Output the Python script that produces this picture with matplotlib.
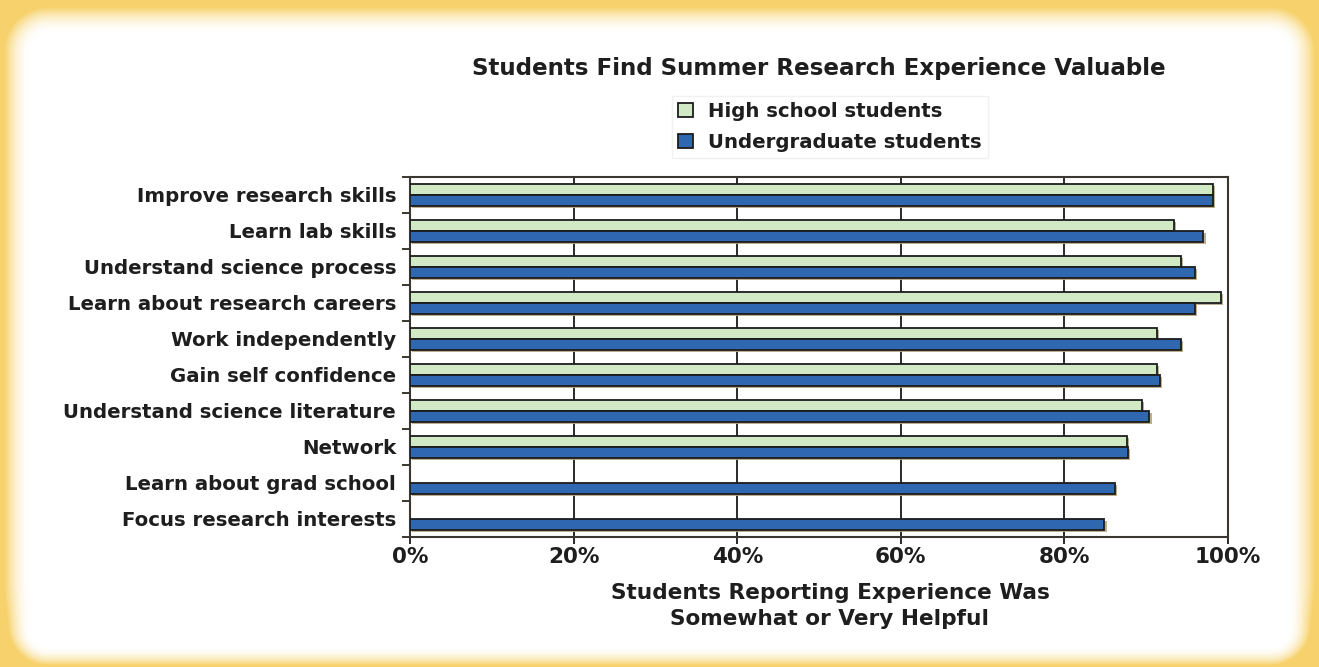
"""Students find summer research experience valuable - horizontal bar chart."""

import matplotlib
matplotlib.use("Agg")  # headless backend
import matplotlib.pyplot as plt
import matplotlib.patheffects as pe
from matplotlib.patches import Patch
import numpy as np

# ---------------------------------------------------------------------------
# Data (percent reporting experience was somewhat or very helpful)
# ---------------------------------------------------------------------------
categories = [
    "Improve research skills",
    "Learn lab skills",
    "Understand science process",
    "Learn about research careers",
    "Work independently",
    "Gain self confidence",
    "Understand science literature",
    "Network",
    "Learn about grad school",
    "Focus research interests",
]
high_school = [98.2, 93.4, 94.3, 99.1, 91.3, 91.3, 89.5, 87.7, np.nan, np.nan]
undergrad = [98.2, 97.0, 96.0, 96.0, 94.3, 91.7, 90.4, 87.8, 86.2, 84.9]
x_ticks = [0, 20, 40, 60, 80, 100]

HS_COLOR = "#d2e9c6"
UG_COLOR = "#2f67b1"
EDGE = "#1c1c1c"
TEXT = "#1e1e1e"
YELLOW = np.array([247, 210, 108]) / 255.0

W, H = 1319, 667
fig = plt.figure(figsize=(W / 100, H / 100), dpi=100)

# yellow glowing frame behind everything (left, top, right, bottom insets)
bg = fig.add_axes((0, 0, 1, 1), zorder=-10)
yy, xx = np.mgrid[0:H, 0:W] + 0.5
il, it, ir, ib, rad = 30, 33, 30, 20, 18
cx = np.clip(xx, il + rad, W - ir - rad)
cy = np.clip(yy, it + rad, H - ib - rad)
dist = np.hypot(xx - cx, yy - cy) - rad
fade = np.interp(yy, [H - 80, H], [26.0, 18.0])
t = np.clip(dist / fade, 0, 1) ** 1.8
img = (1 - t[..., None]) * 1.0 + t[..., None] * YELLOW
bg.imshow(img, extent=(0, W, H, 0), aspect="auto", interpolation="bilinear")
bg.set_axis_off()

ax = fig.add_axes((410 / W, 1 - 537 / H, (1228 - 410) / W, (537 - 177) / H))
ax.set_facecolor("none")

n = len(categories)
y = np.arange(n)
bar_h = 0.3
shadow = [pe.SimplePatchShadow(offset=(1.5, -1.5), shadow_rgbFace="#b5a684", alpha=0.9),
          pe.Normal()]

hs = np.asarray(high_school, dtype=float)
ok = ~np.isnan(hs)
b1 = ax.barh(y[ok] - bar_h / 2, hs[ok], height=bar_h, color=HS_COLOR,
             edgecolor=EDGE, linewidth=1.3, zorder=3)
b2 = ax.barh(y + bar_h / 2, undergrad, height=bar_h, color=UG_COLOR,
             edgecolor=EDGE, linewidth=1.3, zorder=3)
for bars in (b1, b2):
    for p in bars:
        p.set_path_effects(shadow)

ax.set_xlim(0, 100)
ax.set_ylim(n - 0.5, -0.5)
ax.set_xticks(x_ticks)
ax.set_xticklabels([f"{v}%" for v in x_ticks], fontsize=15.5, fontweight="bold",
                   color=TEXT)
ax.set_yticks(y)
ax.set_yticklabels(categories, fontsize=14.2, fontweight="bold", color=TEXT)
ax.set_yticks(np.arange(n + 1) - 0.5, minor=True)
ax.tick_params(axis="y", which="major", length=0, pad=10)
ax.tick_params(axis="y", which="minor", length=6, width=1.4, color="#3a3630")
ax.tick_params(axis="x", length=5, width=1.4, color="#2a2a2a", pad=2)
ax.grid(axis="x", color="#2a2a2a", linewidth=1.4, zorder=1)
ax.set_axisbelow(True)
for s in ax.spines.values():
    s.set_color("#3a3630")
    s.set_linewidth(1.5)

ax.set_xlabel("Students Reporting Experience Was\nSomewhat or Very Helpful",
              fontsize=15.6, fontweight="bold", color=TEXT, linespacing=1.4)
ax.xaxis.set_label_coords((830 - 410) / 818, -(606 - 537) / 360)
ax.xaxis.label.set_va("center")

fig.text(819 / W, 1 - 68 / H, "Students Find Summer Research Experience Valuable",
         ha="center", va="center", fontsize=16.6, fontweight="bold", color=TEXT)

handles = [Patch(facecolor=HS_COLOR, edgecolor=EDGE, linewidth=1.3),
           Patch(facecolor=UG_COLOR, edgecolor=EDGE, linewidth=1.3)]
leg = fig.legend(handles, ["High school students", "Undergraduate students"],
                 loc="upper left", bbox_to_anchor=(672 / W, 1 - 96 / H),
                 frameon=True, fancybox=False, edgecolor="#eeeeee",
                 handlelength=0.75, handleheight=0.75, handletextpad=0.8,
                 labelspacing=0.62, borderpad=0.3, borderaxespad=0,
                 prop={"size": 14.2, "weight": "bold"})
for txt in leg.get_texts():
    txt.set_color(TEXT)

fig.savefig("out.png", dpi=100)
